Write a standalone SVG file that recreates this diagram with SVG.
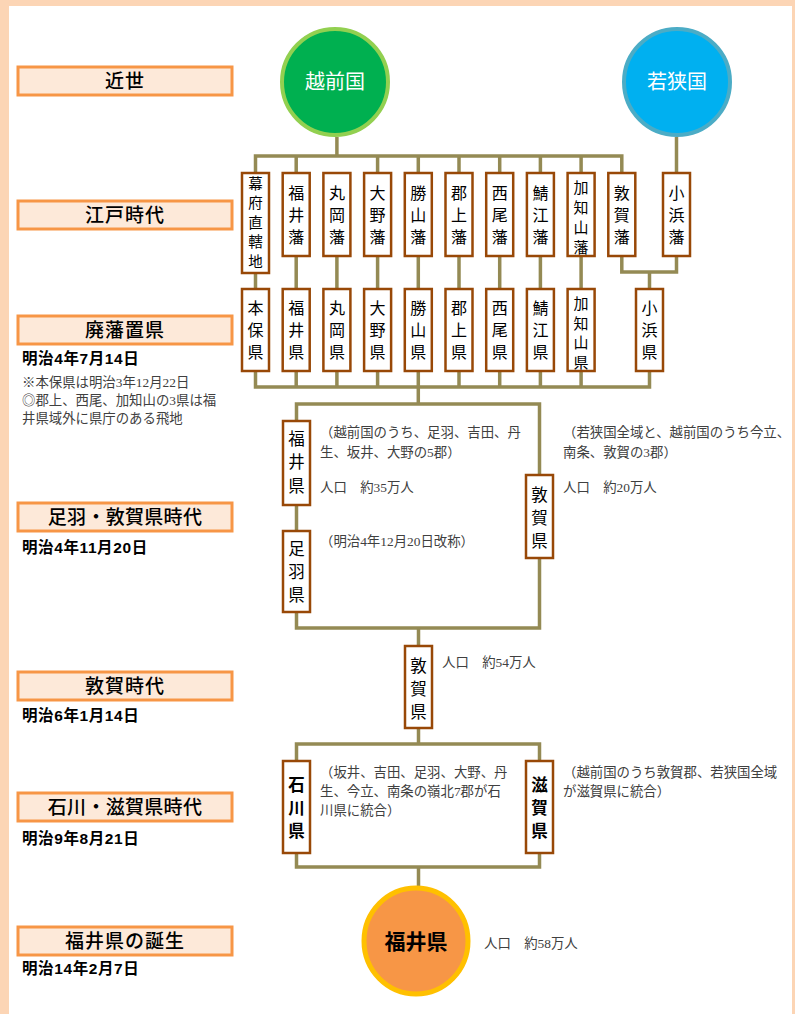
<svg xmlns="http://www.w3.org/2000/svg" width="795" height="1014" viewBox="0 0 795 1014">
<style>
.lbl{fill:#FDE9D9;stroke:#F79646;stroke-width:3}
.lt{font-family:"Noto Sans CJK JP",sans-serif;font-size:19px;font-weight:500;fill:#000;text-anchor:middle;letter-spacing:1px}
.dt{font-family:"Liberation Sans","Noto Sans CJK JP",sans-serif;font-size:15.5px;font-weight:bold;fill:#000;letter-spacing:0.6px}
.nt{font-family:"Liberation Serif","Noto Sans CJK JP",serif;font-size:13.4px;fill:#404040}
.bx{fill:#fff;stroke:#984807;stroke-width:2.5}
.bt{font-family:"Noto Sans CJK JP",sans-serif;font-size:16px;fill:#000;text-anchor:middle}
.bs{font-size:14.5px}
.bm{font-size:15px}
.bl{font-size:16.5px}
.bb{font-weight:bold}
.cn{fill:none;stroke:#948A54;stroke-width:3.5}
.ct{font-family:"Noto Sans CJK JP",sans-serif;font-size:20px;fill:#fff;text-anchor:middle}
</style>
<rect x="0" y="0" width="795" height="1014" fill="#FCD5B5"/>
<rect x="9" y="6" width="783" height="1008" fill="#fff"/>

<g id="connectors" class="cn">
<path d="M336.9,137V156"/>
<path d="M255.5,173V156H621.8V173"/>
<path d="M296.2,156V173M377.6,156V173M418.3,156V173M459,156V173M499.7,156V173M540.4,156V173M581.1,156V173"/>
<path d="M676.5,137V173"/>
<path d="M255.5,273V289M296.2,256V289M336.9,256V289M377.6,256V289M418.3,256V289M459,256V289M499.7,256V289M540.4,256V289M581.1,256V289"/>
<path d="M621.8,256V272H676.5V256M649.5,272V289"/>
<path d="M255.5,371V387H649.5V371M296.2,371V387M336.9,371V387M377.6,371V387M418.3,371V387M459,371V387M499.7,371V387M540.4,371V387M581.1,371V387"/>
<path d="M418.3,387V404"/>
<path d="M296.5,421V404H539.5V475"/>
<path d="M296.5,505V531"/>
<path d="M296.5,612V628H539.5V558M418.5,628V646"/>
<path d="M418.5,728V744"/>
<path d="M296.5,761V744H539.5V761"/>
<path d="M296.5,853V867H539.5V853M418.5,867V886"/>
</g>

<g id="label-kinsei"><rect class="lbl" x="18" y="67" width="214" height="28"/><text class="lt" x="125" y="88">近世</text></g>
<g id="label-edo"><rect class="lbl" x="18" y="201" width="214" height="28"/><text class="lt" x="125" y="222">江戸時代</text></g>
<g id="label-haihan"><rect class="lbl" x="18" y="316" width="214" height="28"/><text class="lt" x="125" y="337">廃藩置県</text>
<text class="dt" x="22" y="364">明治4年7月14日</text>
<text class="nt" x="22" y="387">※本保県は明治3年12月22日</text>
<text class="nt" x="22" y="405">◎郡上、西尾、加知山の3県は福</text>
<text class="nt" x="22" y="423">井県域外に県庁のある飛地</text></g>
<g id="label-asuwa"><rect class="lbl" x="18" y="503" width="214" height="28"/><text class="lt" x="125" y="524" style="letter-spacing:0.3px">足羽・敦賀県時代</text>
<text class="dt" x="22" y="553">明治4年11月20日</text></g>
<g id="label-tsuruga"><rect class="lbl" x="18" y="672" width="214" height="28"/><text class="lt" x="125" y="693">敦賀時代</text>
<text class="dt" x="22" y="721">明治6年1月14日</text></g>
<g id="label-ishikawa"><rect class="lbl" x="18" y="793" width="214" height="28"/><text class="lt" x="125" y="814" style="letter-spacing:0.3px">石川・滋賀県時代</text>
<text class="dt" x="22" y="844">明治9年8月21日</text></g>
<g id="label-fukui"><rect class="lbl" x="18" y="927" width="214" height="28"/><text class="lt" x="125" y="948">福井県の誕生</text>
<text class="dt" x="22" y="974">明治14年2月7日</text></g>

<g id="echizen"><circle cx="335" cy="82" r="53" fill="#00B050" stroke="#92D050" stroke-width="4"/><text class="ct" x="335" y="89">越前国</text></g>
<g id="wakasa"><circle cx="677" cy="82" r="53" fill="#00B0F0" stroke="#4BACC6" stroke-width="4"/><text class="ct" x="677" y="89">若狭国</text></g>

<g id="han-bakufu"><rect class="bx" x="242" y="173" width="27" height="100"/><text class="bt bs"><tspan x="255.5" y="188.5">幕</tspan><tspan x="255.5" y="208">府</tspan><tspan x="255.5" y="227.5">直</tspan><tspan x="255.5" y="247">轄</tspan><tspan x="255.5" y="266.5">地</tspan></text></g>
<g id="han-fukui"><rect class="bx" x="282.7" y="173" width="27" height="83"/><text class="bt"><tspan x="296.2" y="199">福</tspan><tspan x="296.2" y="221">井</tspan><tspan x="296.2" y="243">藩</tspan></text></g>
<g id="han-maruoka"><rect class="bx" x="323.4" y="173" width="27" height="83"/><text class="bt"><tspan x="336.9" y="199">丸</tspan><tspan x="336.9" y="221">岡</tspan><tspan x="336.9" y="243">藩</tspan></text></g>
<g id="han-ono"><rect class="bx" x="364.1" y="173" width="27" height="83"/><text class="bt"><tspan x="377.6" y="199">大</tspan><tspan x="377.6" y="221">野</tspan><tspan x="377.6" y="243">藩</tspan></text></g>
<g id="han-katsuyama"><rect class="bx" x="404.8" y="173" width="27" height="83"/><text class="bt"><tspan x="418.3" y="199">勝</tspan><tspan x="418.3" y="221">山</tspan><tspan x="418.3" y="243">藩</tspan></text></g>
<g id="han-gujo"><rect class="bx" x="445.5" y="173" width="27" height="83"/><text class="bt"><tspan x="459" y="199">郡</tspan><tspan x="459" y="221">上</tspan><tspan x="459" y="243">藩</tspan></text></g>
<g id="han-nishio"><rect class="bx" x="486.2" y="173" width="27" height="83"/><text class="bt"><tspan x="499.7" y="199">西</tspan><tspan x="499.7" y="221">尾</tspan><tspan x="499.7" y="243">藩</tspan></text></g>
<g id="han-sabae"><rect class="bx" x="526.9" y="173" width="27" height="83"/><text class="bt"><tspan x="540.4" y="199">鯖</tspan><tspan x="540.4" y="221">江</tspan><tspan x="540.4" y="243">藩</tspan></text></g>
<g id="han-kachiyama"><rect class="bx" x="567.6" y="173" width="27" height="83"/><text class="bt bm"><tspan x="581.1" y="193">加</tspan><tspan x="581.1" y="213">知</tspan><tspan x="581.1" y="233">山</tspan><tspan x="581.1" y="253">藩</tspan></text></g>
<g id="han-tsuruga"><rect class="bx" x="608.3" y="173" width="27" height="83"/><text class="bt"><tspan x="621.8" y="199">敦</tspan><tspan x="621.8" y="221">賀</tspan><tspan x="621.8" y="243">藩</tspan></text></g>
<g id="han-obama"><rect class="bx" x="663" y="173" width="27" height="83"/><text class="bt"><tspan x="676.5" y="199">小</tspan><tspan x="676.5" y="221">浜</tspan><tspan x="676.5" y="243">藩</tspan></text></g>

<g id="ken-motoyasu"><rect class="bx" x="242" y="289" width="27" height="82"/><text class="bt"><tspan x="255.5" y="314">本</tspan><tspan x="255.5" y="336">保</tspan><tspan x="255.5" y="358">県</tspan></text></g>
<g id="ken-fukui"><rect class="bx" x="282.7" y="289" width="27" height="82"/><text class="bt"><tspan x="296.2" y="314">福</tspan><tspan x="296.2" y="336">井</tspan><tspan x="296.2" y="358">県</tspan></text></g>
<g id="ken-maruoka"><rect class="bx" x="323.4" y="289" width="27" height="82"/><text class="bt"><tspan x="336.9" y="314">丸</tspan><tspan x="336.9" y="336">岡</tspan><tspan x="336.9" y="358">県</tspan></text></g>
<g id="ken-ono"><rect class="bx" x="364.1" y="289" width="27" height="82"/><text class="bt"><tspan x="377.6" y="314">大</tspan><tspan x="377.6" y="336">野</tspan><tspan x="377.6" y="358">県</tspan></text></g>
<g id="ken-katsuyama"><rect class="bx" x="404.8" y="289" width="27" height="82"/><text class="bt"><tspan x="418.3" y="314">勝</tspan><tspan x="418.3" y="336">山</tspan><tspan x="418.3" y="358">県</tspan></text></g>
<g id="ken-gujo"><rect class="bx" x="445.5" y="289" width="27" height="82"/><text class="bt"><tspan x="459" y="314">郡</tspan><tspan x="459" y="336">上</tspan><tspan x="459" y="358">県</tspan></text></g>
<g id="ken-nishio"><rect class="bx" x="486.2" y="289" width="27" height="82"/><text class="bt"><tspan x="499.7" y="314">西</tspan><tspan x="499.7" y="336">尾</tspan><tspan x="499.7" y="358">県</tspan></text></g>
<g id="ken-sabae"><rect class="bx" x="526.9" y="289" width="27" height="82"/><text class="bt"><tspan x="540.4" y="314">鯖</tspan><tspan x="540.4" y="336">江</tspan><tspan x="540.4" y="358">県</tspan></text></g>
<g id="ken-kachiyama"><rect class="bx" x="567.6" y="289" width="27" height="82"/><text class="bt bm"><tspan x="581.1" y="309">加</tspan><tspan x="581.1" y="328.5">知</tspan><tspan x="581.1" y="348">山</tspan><tspan x="581.1" y="367.5">県</tspan></text></g>
<g id="ken-obama"><rect class="bx" x="636" y="289" width="27" height="82"/><text class="bt"><tspan x="649.5" y="314">小</tspan><tspan x="649.5" y="336">浜</tspan><tspan x="649.5" y="358">県</tspan></text></g>

<g id="fukui-ken-1871"><rect class="bx" x="283" y="421" width="27" height="84"/><text class="bt bl"><tspan x="296.5" y="444.5">福</tspan><tspan x="296.5" y="468">井</tspan><tspan x="296.5" y="491.5">県</tspan></text>
<text class="nt"><tspan x="320" y="437">（越前国のうち、足羽、吉田、丹</tspan><tspan x="320" y="457">生、坂井、大野の5郡）</tspan><tspan x="320" y="492">人口　約35万人</tspan></text></g>
<g id="asuwa-ken"><rect class="bx" x="283" y="531" width="27" height="81"/><text class="bt bl"><tspan x="296.5" y="554.5">足</tspan><tspan x="296.5" y="577.5">羽</tspan><tspan x="296.5" y="600.5">県</tspan></text>
<text class="nt" x="320" y="546">（明治4年12月20日改称）</text></g>
<g id="tsuruga-ken-1871"><rect class="bx" x="526" y="475" width="27" height="83"/><text class="bt bl"><tspan x="539.5" y="500.5">敦</tspan><tspan x="539.5" y="523.5">賀</tspan><tspan x="539.5" y="546.5">県</tspan></text>
<text class="nt"><tspan x="563" y="437">（若狭国全域と、越前国のうち今立、</tspan><tspan x="563" y="457">南条、敦賀の3郡）</tspan><tspan x="563" y="492">人口　約20万人</tspan></text></g>
<g id="tsuruga-ken-1873"><rect class="bx" x="405" y="646" width="27" height="82"/><text class="bt bl"><tspan x="418.5" y="671.5">敦</tspan><tspan x="418.5" y="694.5">賀</tspan><tspan x="418.5" y="717.5">県</tspan></text>
<text class="nt" x="442" y="667">人口　約54万人</text></g>
<g id="ishikawa-ken"><rect class="bx" x="283" y="761" width="27" height="92"/><text class="bt bl bb"><tspan x="296.5" y="791">石</tspan><tspan x="296.5" y="814">川</tspan><tspan x="296.5" y="837">県</tspan></text>
<text class="nt"><tspan x="320" y="777">（坂井、吉田、足羽、大野、丹</tspan><tspan x="320" y="796">生、今立、南条の嶺北7郡が石</tspan><tspan x="320" y="815">川県に統合）</tspan></text></g>
<g id="shiga-ken"><rect class="bx" x="526" y="761" width="27" height="92"/><text class="bt bl bb"><tspan x="539.5" y="791">滋</tspan><tspan x="539.5" y="814">賀</tspan><tspan x="539.5" y="837">県</tspan></text>
<text class="nt"><tspan x="563" y="777">（越前国のうち敦賀郡、若狭国全域</tspan><tspan x="563" y="796">が滋賀県に統合）</tspan></text></g>

<g id="fukui-ken"><ellipse cx="416" cy="941" rx="52" ry="53" fill="#F79646" stroke="#FFC000" stroke-width="5"/><text class="bt bb" style="font-size:21px" x="416" y="949">福井県</text>
<text class="nt" x="484" y="948">人口　約58万人</text></g>
</svg>
